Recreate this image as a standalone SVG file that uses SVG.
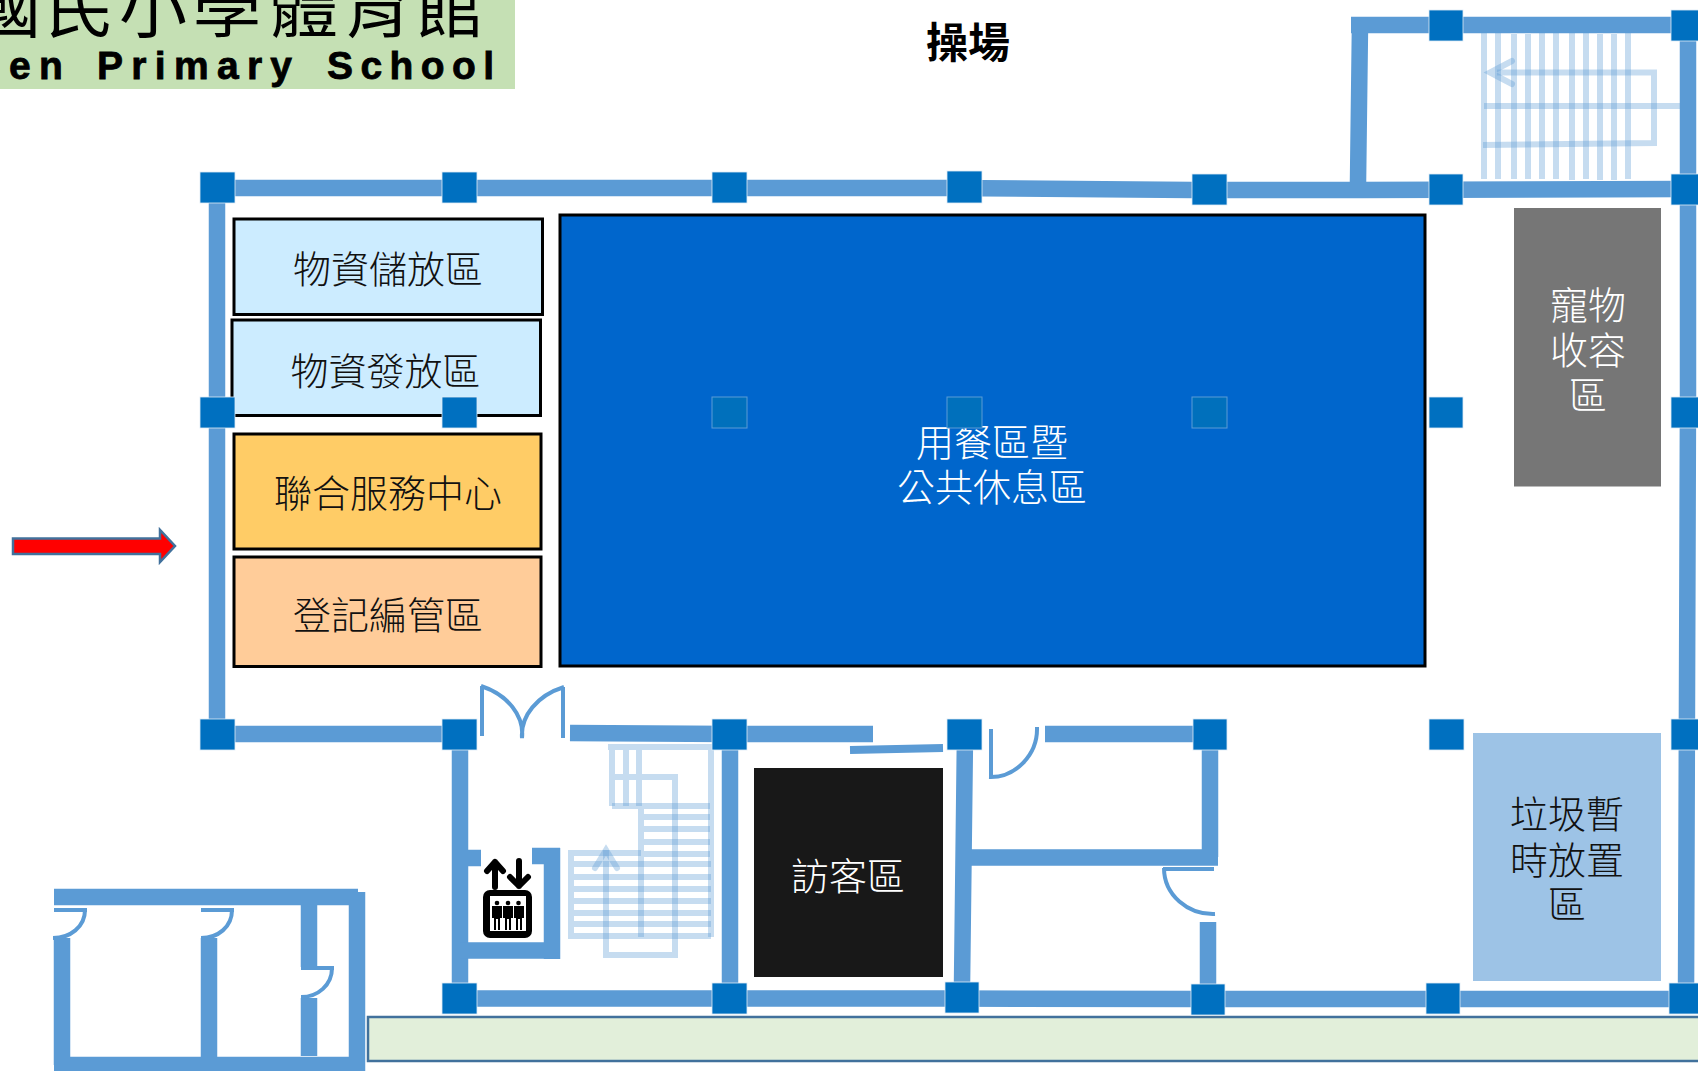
<svg xmlns="http://www.w3.org/2000/svg" width="1698" height="1071" viewBox="0 0 1698 1071">
<style>
.cjk{font-family:"Noto Sans CJK TC","Noto Sans CJK JP",sans-serif;font-size:38px;text-anchor:middle;font-weight:300}
.wht{fill:#fff}.blk{fill:#111}
.w{fill:none;stroke:#5B9BD5;stroke-width:16.500}
.d{fill:none;stroke:#5B9BD5;stroke-width:4}
.s{fill:none;stroke:#5B9BD5;stroke-width:6;stroke-opacity:.35}
.c{fill:#0070C0;stroke:#DEEAF6;stroke-width:.8}
.ct{fill:#0070BC;stroke:#5B9BD5;stroke-width:1}
.r{stroke:#000;stroke-width:3}
</style>
<rect width="1698" height="1071" fill="#fff"/>
<g id="title">
<rect x="0" y="0" width="515" height="89" fill="#C5E0B4"/>
<text class="cjk" x="7 80 153 227 304 377 450" y="32" style="font-size:68px;font-weight:400" fill="#000">國民小學體育館</text>
<text y="79" font-family="'Liberation Sans',Arial,sans-serif" font-weight="700" font-size="39" letter-spacing="8.300" fill="#000" stroke="#000" stroke-width=".8"><tspan x="9">en</tspan> <tspan x="97">Primary</tspan> <tspan x="327" letter-spacing="7.400">School</tspan></text>
</g>
<g id="playground"><text class="cjk" x="968" y="58" style="font-size:42px;font-weight:700" fill="#000">操場</text></g>
<g id="ground-strip"><rect x="368" y="1017" width="1332" height="44" fill="#E2EFDA" stroke="#41719C" stroke-width="2.500"/></g>
<g id="stairs-top">
<path class="s" d="M1484 33V179M1498 33V179M1514 34V179M1528 34V179M1542 33V179M1556 33V179M1572 33V180M1586 33V179M1600 34V180M1614 34V180M1628 33V179"/>
<path class="s" d="M1484 106H1680"/>
<path class="s" d="M1483 145L1654 143V72.500H1497"/>
<path class="s" d="M1512 61L1490 72.500L1512 84" stroke-linecap="round" stroke-width="7"/>
</g>
<g id="stairs-lower">
<path class="s" d="M608 747H711V937M612 747V806M626 744V806M639 744V806M611 777H675V955H606V850"/>
<path class="s" d="M612 806H710M641 817H710M641 829H710M641 842H710M641 854H710M641 807V937"/>
<path class="s" d="M568 853H641M568 864H711M568 877H711M568 889H711M568 901H711M568 913H711M568 924H711M568 936H711M571 851V937"/>
<path class="s" d="M595 868L606 850L617 868" stroke-linecap="round" stroke-width="7"/>
</g>
<g id="walls">
<path class="w" d="M200 188H947L1192 190H1360L1680 189"/>
<path class="w" d="M217 188V735M217 734H460"/>
<path class="w" d="M570 733L730 734H873M1045 734H1210"/>
<path class="w" style="stroke-width:8" d="M850 750L943 748"/>
<path class="w" d="M460 734V990M730 734V990"/>
<path class="w" d="M965 735L962 985M965 857.500H1218M1210 735V857M1208 922V990"/>
<path class="w" d="M460 998.500H945L1200 999H1698"/>
<path class="w" d="M1688 25V396L1686 1000"/>
<path class="w" d="M1351 25H1698M1360 25L1358 182"/>
<path class="w" d="M467 858H481M532 856H560M552 848V959M460 950.500H560"/>
<path class="w" d="M54 897H358M357 892V1071M54 1065H364M62 938V1065M209 938V1065M309 905V967M309 998V1056"/>
</g>
<g id="doors">
<path class="d" d="M482 686V736M481 686A68 52 0 0 1 522 738M563 687V738M564 687A68 52 0 0 0 522 738"/>
<path class="d" d="M991 729V779M989 777C1015 778 1038 755 1037 727"/>
<path class="d" d="M1163 869H1214M1164 868C1164 895 1188 915 1215 914"/>
<path class="d" d="M54 910H87M85 910C85 927 70 938 53 938M201 910H234M232 910C232 927 218 938 201 938M301 968H334M332 968C332 985 318 997 301 997"/>
</g>
<g id="elevator">
<rect x="483" y="890" width="49" height="48" rx="7" fill="#000"/>
<rect x="490" y="896" width="36" height="35" fill="#fff"/>
<path d="M495 887V862M487 871L495 862L503 871M519 861V886M510 877L519 886L528 877" fill="none" stroke="#000" stroke-width="6" stroke-linecap="round" stroke-linejoin="round"/>
<g fill="#000">
<circle cx="497" cy="903" r="2.300"/><path d="M492 906H502V918H500V930H498V919H496V930H494V918H492Z"/>
<circle cx="508" cy="903" r="2.300"/><path d="M503 906H513V918H511V930H509V919H507V930H505V918H503Z"/>
<circle cx="518.500" cy="903" r="2.300"/><path d="M514 906H524V918H522V930H520V919H518V930H516V918H514Z"/>
</g>
</g>
<g id="main-hall">
<rect class="r" x="560" y="215" width="865" height="451" fill="#0066CC"/>
<text class="cjk wht" x="992" y="456">用餐區暨</text>
<text class="cjk wht" x="992" y="501">公共休息區</text>
</g>
<g id="storage"><rect class="r" x="234" y="219" width="308.500" height="95.500" fill="#CCECFF"/><text class="cjk blk" x="388" y="283">物資儲放區</text></g>
<g id="distribution"><rect class="r" x="232" y="320" width="308.500" height="95.500" fill="#CCECFF"/><text class="cjk blk" x="385.500" y="385">物資發放區</text></g>
<g id="service-center"><rect class="r" x="234" y="434" width="307" height="115" fill="#FFCC66"/><text class="cjk blk" x="388" y="507">聯合服務中心</text></g>
<g id="registration"><rect class="r" x="234" y="557" width="307" height="109.500" fill="#FFCC99"/><text class="cjk blk" x="388" y="629">登記編管區</text></g>
<g id="pets"><rect x="1514" y="208" width="147" height="278.500" fill="#767676"/><text class="cjk wht" x="1588" y="319">寵物</text><text class="cjk wht" x="1588" y="364">收容</text><text class="cjk wht" x="1588" y="409">區</text></g>
<g id="visitors"><rect x="754" y="768" width="189" height="209" fill="#181818"/><text class="cjk wht" x="848" y="890">訪客區</text></g>
<g id="garbage"><rect x="1473" y="733" width="188" height="248" fill="#9DC3E6"/><text class="cjk blk" x="1567" y="828">垃圾暫</text><text class="cjk blk" x="1567" y="874">時放置</text><text class="cjk blk" x="1567" y="918">區</text></g>
<g id="columns">
<rect class="c" x="200" y="172" width="35" height="31"/><rect class="c" x="442" y="172" width="35" height="31"/><rect class="c" x="712" y="172" width="35" height="31"/><rect class="c" x="947" y="171" width="35" height="32"/><rect class="c" x="1192" y="174" width="35" height="31"/><rect class="c" x="1429" y="174" width="34" height="31"/><rect class="c" x="1671" y="174" width="34" height="31"/>
<rect class="c" x="1429" y="10" width="34" height="31"/><rect class="c" x="1671" y="10" width="34" height="31"/>
<rect class="c" x="200" y="397" width="35" height="31"/><rect class="c" x="442" y="397" width="35" height="31"/>
<rect class="ct" x="712" y="397" width="35" height="31"/><rect class="ct" x="947" y="397" width="35" height="31"/><rect class="ct" x="1192" y="397" width="35" height="31"/>
<rect class="c" x="1429" y="397" width="34" height="31"/><rect class="c" x="1671" y="397" width="34" height="31"/>
<rect class="c" x="200" y="719" width="35" height="31"/><rect class="c" x="442" y="719" width="35" height="31"/><rect class="c" x="712" y="719" width="35" height="31"/><rect class="c" x="947" y="719" width="35" height="31"/><rect class="c" x="1193" y="719" width="34" height="31"/><rect class="c" x="1429" y="719" width="35" height="31"/><rect class="c" x="1671" y="719" width="34" height="31"/>
<rect class="c" x="442" y="983" width="35" height="31"/><rect class="c" x="712" y="983" width="35" height="31"/><rect class="c" x="945" y="982" width="34" height="31"/><rect class="c" x="1191" y="984" width="34" height="31"/><rect class="c" x="1426" y="983" width="34" height="31"/><rect class="c" x="1669" y="983" width="34" height="31"/>
</g>
<g id="entrance-arrow"><path d="M13 538.500H160V530L175 546L160 562V554H13Z" fill="#FF0000" stroke="#41719C" stroke-width="2.500"/></g>
</svg>
